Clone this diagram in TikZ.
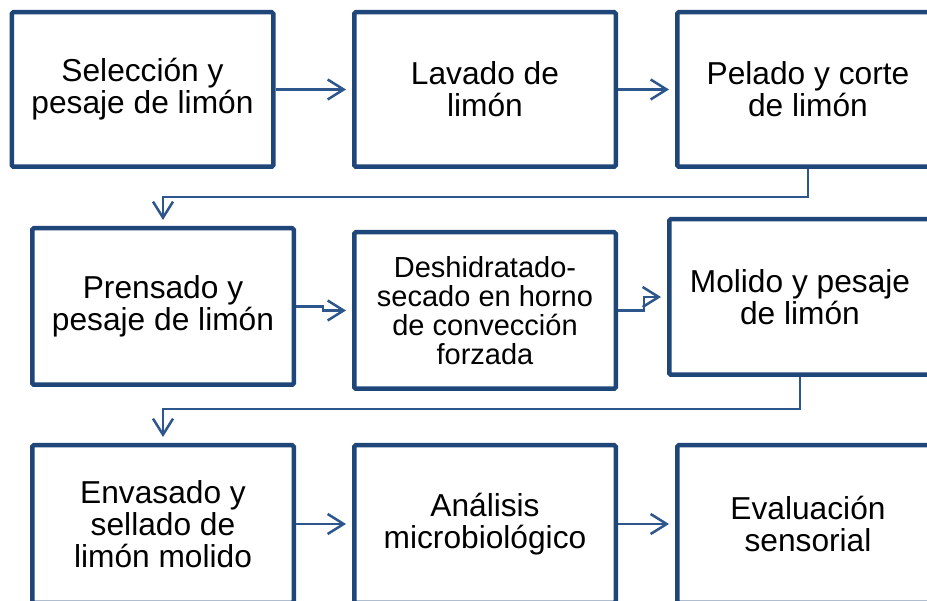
\documentclass[tikz,border=0pt]{standalone}
\usepackage{fontspec}
\setmainfont{Liberation Sans}
\usetikzlibrary{arrows.meta}
\definecolor{boxblue}{RGB}{31,70,120}
\definecolor{lineblue}{RGB}{44,86,140}
\newcommand{\flowfont}{\fontsize{31.7}{32}\selectfont}
\newcommand{\smallflowfont}{\fontsize{29}{29}\selectfont}
\tikzset{
  stepbox/.style={draw=boxblue, line width=4.5pt, fill=white, rounded corners=1.5pt,
    minimum width=261.5pt, minimum height=154.5pt, inner sep=0pt, align=center, font=\flowfont},
  conn/.style={draw=lineblue, line width=2.5pt, line join=miter, shorten >=6pt,
    -{Straight Barb[length=16pt,width=20pt]}}
}
\begin{document}
\begin{tikzpicture}[x=1pt, y=-1pt]
    \useasboundingbox (0,0) rectangle (927,601);
    \clip (0,0) rectangle (927,601);
    % first row
    \node[stepbox] (b1) at (142.5,89.5) {Selección y\\pesaje de limón};
    \node[stepbox] (b2) at (485,89.5) {Lavado de\\limón};
    \node[stepbox] (b3) at (808,89.5) {Pelado y corte\\de limón};
    % second row
    \node[stepbox, minimum height=156.5pt] (b4) at (163,306.5) {Prensado y\\pesaje de limón};
    \node[stepbox, minimum height=156.5pt, font=\smallflowfont] (b5) at (485,310.5)
        {Deshidratado-\\secado en horno\\de convección\\forzada};
    \node[stepbox, minimum height=155.5pt] (b6) at (800,297) {Molido y pesaje\\de limón};
    % third row
    \node[stepbox, minimum height=157.5pt] (b7) at (163,524) {Envasado y\\sellado de\\limón molido};
    \node[stepbox, minimum height=157.5pt] (b8) at (485,524) {Análisis\\microbiológico};
    \node[stepbox, minimum height=157.5pt] (b9) at (808,524) {Evaluación\\sensorial};
    % connectors
    \draw[conn] (b1) -- (b2);
    \draw[conn] (b2) -- (b3);
    \draw[conn] (b3.south) -- ++(0,28) -| (b4.north);
    \draw[conn] (b4.east) -- ++(27,0) |- (b5.west);
    \draw[conn] (b5.east) -- ++(26,0) |- (b6.west);
    \draw[conn] (b6.south) -- ++(0,32) -| (b7.north);
    \draw[conn] (b7) -- (b8);
    \draw[conn] (b8) -- (b9);
\end{tikzpicture}
\end{document}
